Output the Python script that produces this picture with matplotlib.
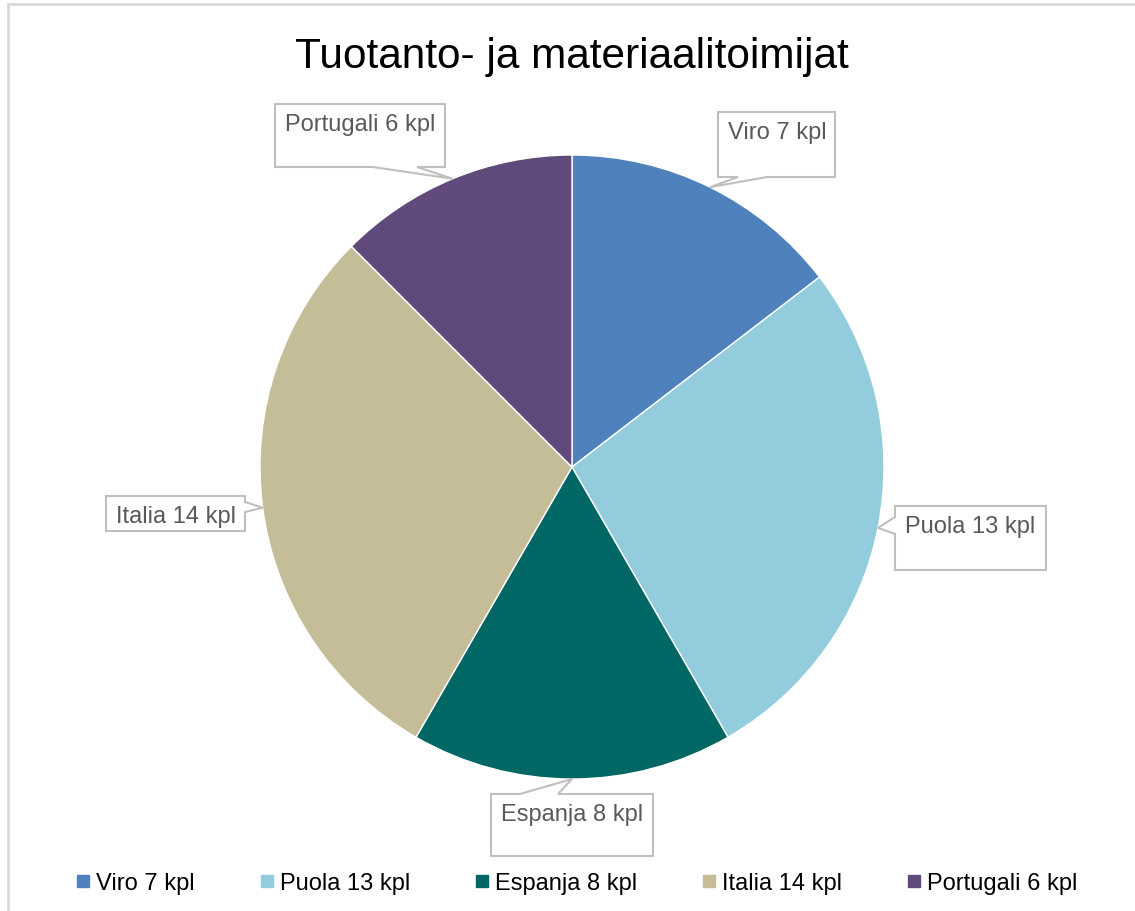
import numpy as np
import matplotlib.pyplot as plt
from matplotlib.patches import Polygon, Rectangle
from matplotlib.lines import Line2D

plt.rcParams['font.family'] = ['Liberation Sans', 'DejaVu Sans']

# data
maat = ['Viro', 'Puola', 'Espanja', 'Italia', 'Portugali']
kpl = [7, 13, 8, 14, 6]
labels = [f'{m} {k} kpl' for m, k in zip(maat, kpl)]
colors = ['#4F81BD', '#93CDDD', '#006765', '#C4BD97', '#604A7B']

# callout boxes in pixel coords (x0, y0 top, x1, y1 bottom) and which edge the pointer leaves from
boxes = [(718, 113, 835, 178), (895, 507, 1046, 571), (491, 795, 653, 857),
         (106, 497, 245, 532), (275, 105, 445, 168)]
bases = [('bottom', 738, 767), ('left', 518, 535), ('top', 520, 558),
         ('right', 503, 513), ('bottom', 373, 417)]

W, H = 1135, 912
cx, cy, R = 572, 468, 312

fig = plt.figure(figsize=(W / 100, H / 100), dpi=100)
ax = fig.add_axes([0, 0, 1, 1])

ax.pie(kpl, colors=colors, startangle=90, counterclock=False,
       center=(cx, H - cy), radius=R,
       wedgeprops=dict(edgecolor='white', linewidth=1))
ax.set_xlim(0, W)
ax.set_ylim(0, H)
ax.axis('off')

# callouts, pointer tip at middle of each wedge on the rim
ang = 90 - (np.cumsum(kpl) - np.array(kpl) / 2) / sum(kpl) * 360
for lab, a, (x0, y0, x1, y1), (side, b0, b1) in zip(labels, ang, boxes, bases):
    tx = cx + R * np.cos(np.radians(a))
    ty = cy - R * np.sin(np.radians(a))
    if side == 'bottom':
        pts = [(x0, y0), (x1, y0), (x1, y1), (b1, y1), (tx, ty), (b0, y1), (x0, y1)]
    elif side == 'top':
        pts = [(x0, y0), (b0, y0), (tx, ty), (b1, y0), (x1, y0), (x1, y1), (x0, y1)]
    elif side == 'left':
        pts = [(x0, y0), (x1, y0), (x1, y1), (x0, y1), (x0, b1), (tx, ty), (x0, b0)]
    else:
        pts = [(x0, y0), (x1, y0), (x1, b0), (tx, ty), (x1, b1), (x1, y1), (x0, y1)]
    pts = [(px, H - py) for px, py in pts]
    ax.add_patch(Polygon(pts, closed=True, facecolor='white',
                         edgecolor='#BFBFBF', linewidth=1.5, zorder=3))
    ax.text(x0 + 10, H - (y0 + 26), lab, fontsize=17, color='#595959',
            ha='left', va='baseline', zorder=4)

# chart border
ax.add_patch(Rectangle((8, -10), W + 10, H + 5, fill=False,
                       edgecolor='#D9D9D9', linewidth=2))

ax.text(cx, H - 68, 'Tuotanto- ja materiaalitoimijat', fontsize=30.5,
        ha='center', va='baseline', color='black')

handles = [Line2D([], [], marker='s', linestyle='', markersize=8,
                  markerfacecolor=c, markeredgecolor=c) for c in colors]
fig.legend(handles, labels, loc='center', bbox_to_anchor=(576 / W, 1 - 884 / H),
           ncol=5, frameon=False, fontsize=17, handlelength=0.7,
           handletextpad=0.2, columnspacing=2.7)

fig.savefig('out.png', dpi=100)
